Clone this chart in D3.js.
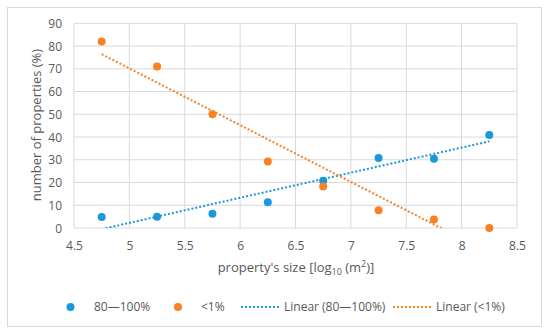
<!DOCTYPE html>
<html><head><meta charset="utf-8">
<script src="https://cdn.jsdelivr.net/npm/d3@7/dist/d3.min.js"></script>
<style>
body{margin:0;background:#fff;}
text{font-family:"Open Sans","Noto Sans",sans-serif;fill:#595959;}
</style></head>
<body><svg id="c" width="550" height="333"></svg>
<script>
const sizes = [4.75, 5.25, 5.75, 6.25, 6.75, 7.25, 7.75, 8.25];
const high = [4.8, 5.0, 6.3, 11.3, 20.8, 30.8, 30.5, 40.9];
const low = [82.0, 71.0, 50.0, 29.2, 18.3, 7.8, 3.7, 0.0];
const xTicks = [4.5, 5, 5.5, 6, 6.5, 7, 7.5, 8, 8.5];
const yTicks = [0, 10, 20, 30, 40, 50, 60, 70, 80, 90];
const seriesNames = ["80—100%", "<1%"];
const colors = ["#1B98D9", "#F98123"];

const svg = d3.select("#c");
svg.append("rect").attr("x", 7.5).attr("y", 7.5).attr("width", 534).attr("height", 319)
  .attr("fill", "#fff").attr("stroke", "#d9d9d9");

const x = d3.scaleLinear().domain([4.5, 8.5]).range([74, 517]);
const y = d3.scaleLinear().domain([0, 90]).range([228, 23.3]);

const g = svg.append("g");
// gridlines
g.selectAll(".vg").data(xTicks).join("line")
  .attr("x1", d => x(d)).attr("x2", d => x(d)).attr("y1", y(0)).attr("y2", y(90))
  .attr("stroke", "#d9d9d9").attr("stroke-width", 1);
g.selectAll(".hg").data(yTicks).join("line")
  .attr("x1", x(4.5)).attr("x2", x(8.5)).attr("y1", d => y(d)).attr("y2", d => y(d))
  .attr("stroke", "#d9d9d9").attr("stroke-width", 1);

// axes labels
const xa = d3.axisBottom(x).tickValues(xTicks).tickSize(0).tickPadding(0).tickFormat(d3.format(""));
const xg = svg.append("g").attr("transform", `translate(0,${y(0)})`).call(xa);
xg.select(".domain").remove();
xg.selectAll("text").attr("dy", null).attr("y", 22).attr("font-size", 12).style("fill", "#595959");
const ya = d3.axisLeft(y).tickValues(yTicks).tickSize(0).tickPadding(0);
const yg = svg.append("g").attr("transform", `translate(62,0)`).call(ya);
yg.select(".domain").remove();
yg.selectAll("text").attr("dy", "0.35em").attr("x", 0).attr("font-size", 12).style("fill", "#595959");
svg.selectAll(".tick line").remove();

// axis titles
const xt = svg.append("text").attr("x", 296).attr("y", 272).attr("text-anchor", "middle").attr("font-size", 13);
xt.append("tspan").text("property's size [log");
xt.append("tspan").attr("font-size", 9).attr("dy", 3).text("10");
xt.append("tspan").attr("dy", -3).text(" (m");
xt.append("tspan").attr("font-size", 9).attr("dy", -5).text("2");
xt.append("tspan").attr("dy", 5).text(")]");
svg.append("text").attr("transform", "translate(41,125) rotate(-90)").attr("text-anchor", "middle")
  .attr("font-size", 13).text("number of properties (%)");

// trend lines (least squares from data), clipped to plot area
svg.append("clipPath").attr("id", "pa").append("rect")
  .attr("x", x(4.5)).attr("y", y(90)).attr("width", x(8.5) - x(4.5)).attr("height", y(0) - y(90));
function fit(xs, ys) {
  const mx = d3.mean(xs), my = d3.mean(ys);
  const b = d3.sum(xs, (v, i) => (v - mx) * (ys[i] - my)) / d3.sum(xs, v => (v - mx) ** 2);
  return v => my + b * (v - mx);
}
[high, low].forEach((vals, k) => {
  const f = fit(sizes, vals);
  const x0 = sizes[0], x1 = sizes[sizes.length - 1];
  svg.append("line").attr("clip-path", "url(#pa)")
    .attr("x1", x(x0)).attr("y1", y(f(x0))).attr("x2", x(x1)).attr("y2", y(f(x1)))
    .attr("stroke", colors[k]).attr("stroke-width", 2).attr("stroke-dasharray", "2,2");
});

// points
[high, low].forEach((vals, k) => {
  svg.append("g").selectAll("circle").data(vals).join("circle")
    .attr("cx", (d, i) => x(sizes[i])).attr("cy", d => y(d)).attr("r", 4)
    .attr("fill", colors[k]);
});

// legend
const ly = 307;
const leg = svg.append("g");
leg.append("circle").attr("cx", 70.5).attr("cy", ly).attr("r", 4).attr("fill", colors[0]);
leg.append("text").attr("x", 94).attr("y", ly).attr("dy", "0.35em").attr("font-size", 12).text(seriesNames[0]);
leg.append("circle").attr("cx", 178).attr("cy", ly).attr("r", 4).attr("fill", colors[1]);
leg.append("text").attr("x", 201).attr("y", ly).attr("dy", "0.35em").attr("font-size", 12).text(seriesNames[1]);
leg.append("line").attr("x1", 241).attr("x2", 280).attr("y1", ly).attr("y2", ly)
  .attr("stroke", colors[0]).attr("stroke-width", 2).attr("stroke-dasharray", "2,2");
leg.append("text").attr("x", 284).attr("y", ly).attr("dy", "0.35em").attr("font-size", 12).text(`Linear (${seriesNames[0]})`);
leg.append("line").attr("x1", 393).attr("x2", 433).attr("y1", ly).attr("y2", ly)
  .attr("stroke", colors[1]).attr("stroke-width", 2).attr("stroke-dasharray", "2,2");
leg.append("text").attr("x", 436).attr("y", ly).attr("dy", "0.35em").attr("font-size", 12).text(`Linear (${seriesNames[1]})`);
</script></body></html>
